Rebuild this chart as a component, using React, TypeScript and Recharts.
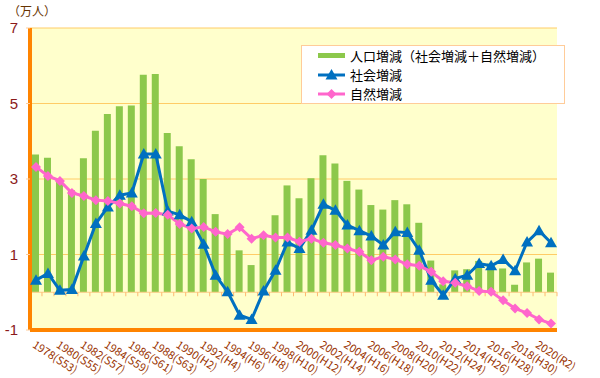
import React from 'react';
import {
  ComposedChart,
  Bar,
  Line,
  XAxis,
  YAxis,
  CartesianGrid,
  ReferenceLine,
  Legend,
} from 'recharts';

// ---- data ----
const years = [
  1978, 1979, 1980, 1981, 1982, 1983, 1984, 1985, 1986, 1987, 1988, 1989, 1990,
  1991, 1992, 1993, 1994, 1995, 1996, 1997, 1998, 1999, 2000, 2001, 2002, 2003,
  2004, 2005, 2006, 2007, 2008, 2009, 2010, 2011, 2012, 2013, 2014, 2015, 2016,
  2017, 2018, 2019, 2020, 2021,
];
const eras = [
  'S53', 'S54', 'S55', 'S56', 'S57', 'S58', 'S59', 'S60', 'S61', 'S62', 'S63', 'H1', 'H2',
  'H3', 'H4', 'H5', 'H6', 'H7', 'H8', 'H9', 'H10', 'H11', 'H12', 'H13', 'H14', 'H15',
  'H16', 'H17', 'H18', 'H19', 'H20', 'H21', 'H22', 'H23', 'H24', 'H25', 'H26', 'H27', 'H28',
  'H29', 'H30', 'R1', 'R2', 'R3',
];
// 人口増減（社会増減＋自然増減）
const totalChange = [
  3.65, 3.56, 3.0, 2.7, 3.55, 4.28, 4.72, 4.93, 4.95, 5.76, 5.78, 4.22, 3.87,
  3.52, 3.0, 2.07, 1.55, 1.11, 0.72, 1.54, 2.04, 2.83, 2.49, 3.02, 3.63, 3.41,
  2.95, 2.72, 2.31, 2.19, 2.44, 2.33, 1.84, 0.84, 0.21, 0.58, 0.61, 0.83, 0.76,
  0.63, 0.2, 0.79, 0.89, 0.52,
];
// 社会増減
const socialChange = [
  0.32, 0.5, 0.05, 0.07, 0.96, 1.82, 2.26, 2.57, 2.63, 3.66, 3.66, 2.15, 2.05,
  1.87, 1.27, 0.45, 0.01, -0.61, -0.72, 0.03, 0.58, 1.33, 1.16, 1.64, 2.33, 2.17,
  1.78, 1.63, 1.49, 1.25, 1.6, 1.58, 1.11, 0.32, -0.08, 0.36, 0.45, 0.76, 0.7,
  0.87, 0.57, 1.33, 1.63, 1.31,
];
// 自然増減
const naturalChange = [
  3.32, 3.08, 2.95, 2.63, 2.55, 2.44, 2.42, 2.35, 2.28, 2.09, 2.1, 2.05, 1.81,
  1.69, 1.73, 1.6, 1.54, 1.72, 1.42, 1.51, 1.45, 1.45, 1.34, 1.42, 1.31, 1.25,
  1.16, 1.07, 0.85, 0.94, 0.87, 0.74, 0.7, 0.54, 0.29, 0.25, 0.16, 0.03, 0.01,
  -0.21, -0.43, -0.55, -0.72, -0.83,
];
const yTicks = [-1, 1, 3, 5, 7];
const seriesNames = ['人口増減（社会増減＋自然増減）', '社会増減', '自然増減'];
const unitLabel = '（万人）';

const data = years.map((y, i) => ({
  year: y,
  label: `${y}(${eras[i]})`,
  total: totalChange[i],
  social: socialChange[i],
  natural: naturalChange[i],
}));

// ---- styles ----
const GREEN = '#8CC84B';
const BLUE = '#0070C0';
const PINK = '#FF66CC';
const BORDER = '#FF8400';
const LABEL = '#993300';
const JP = '"Noto Sans CJK JP", sans-serif';

const Triangle = (props: any) => {
  const { cx, cy } = props;
  if (cx == null || cy == null) return null;
  return (
    <path
      d={`M${cx},${cy - 6} L${cx + 6},${cy + 4.5} L${cx - 6},${cy + 4.5} Z`}
      fill={BLUE}
    />
  );
};

const Diamond = (props: any) => {
  const { cx, cy } = props;
  if (cx == null || cy == null) return null;
  return (
    <path
      d={`M${cx},${cy - 5} L${cx + 5},${cy} L${cx},${cy + 5} L${cx - 5},${cy} Z`}
      fill={PINK}
    />
  );
};

const XTick = (props: any) => {
  const { x, y, payload } = props;
  const i = years.indexOf(payload.value);
  if (i < 0) return null;
  return (
    <text
      x={x}
      y={y}
      dy={8}
      transform={`rotate(33 ${x} ${y})`}
      fontSize={11}
      fill={LABEL}
      fontFamily={JP}
      textAnchor="start"
    >
      {data[i].label}
    </text>
  );
};

const ZeroLine = (props: any) => {
  const { x1, y1, x2 } = props;
  if (x1 == null) return null;
  const n = data.length;
  const step = (x2 - x1) / n;
  const ticks = [];
  for (let k = 0; k <= n; k++) {
    const tx = x1 + k * step;
    ticks.push(<line key={k} x1={tx} x2={tx} y1={y1} y2={y1 + 4} stroke="#FFB870" strokeWidth={1} />);
  }
  return (
    <g>
      <line x1={x1} x2={x2} y1={y1} y2={y1} stroke="#FFCC88" strokeWidth={1} />
      {ticks}
    </g>
  );
};

const LegendContent = (props: any) => {
  const payload = props.payload || [];
  return (
    <div
      style={{
        background: '#ffffff',
        border: '1px solid #FFCC99',
        width: 264,
        height: 59,
        boxSizing: 'border-box',
        fontFamily: JP,
        fontSize: 13,
        color: '#000',
      }}
    >
      {payload.map((entry: any, idx: number) => {
        const key = entry.dataKey;
        let swatch;
        if (key === 'total') {
          swatch = <rect x={0} y={7} width={27} height={5} fill={GREEN} />;
        } else if (key === 'social') {
          swatch = (
            <g>
              <line x1={0} x2={27} y1={10} y2={10} stroke={BLUE} strokeWidth={3} />
              <Triangle cx={13.5} cy={10} />
            </g>
          );
        } else {
          swatch = (
            <g>
              <line x1={0} x2={27} y1={10} y2={10} stroke={PINK} strokeWidth={3} />
              <Diamond cx={13.5} cy={10} />
            </g>
          );
        }
        return (
          <div
            key={idx}
            style={{ display: 'flex', alignItems: 'center', height: 19, paddingLeft: 16 }}
          >
            <svg width={27} height={20} style={{ marginRight: 5, flex: 'none' }}>
              {swatch}
            </svg>
            <span style={{ whiteSpace: 'nowrap', lineHeight: '19px' }}>{entry.value}</span>
          </div>
        );
      })}
    </div>
  );
};

export default function App() {
  return (
    <div
      style={{
        position: 'absolute',
        left: 0,
        top: 0,
        width: 600,
        height: 378,
        background: '#ffffff',
      }}
    >
      <div
        style={{
          position: 'absolute',
          left: 8,
          top: 4,
          fontFamily: JP,
          fontSize: 12,
          lineHeight: '14px',
          color: '#663300',
          zIndex: 2,
        }}
      >
        {unitLabel}
      </div>
      <ComposedChart
        width={600}
        height={378}
        data={data}
        margin={{ top: 28, right: 43, bottom: 0, left: 0 }}
      >
        <CartesianGrid horizontal vertical={false} fill="#FFFFCC" stroke="#FFCC66" strokeWidth={1} />
        <ReferenceLine y={0} shape={ZeroLine} ifOverflow="extendDomain" />
        <Bar
          dataKey="total"
          name={seriesNames[0]}
          fill={GREEN}
          barSize={7}
          isAnimationActive={false}
        />
        <Line
          dataKey="social"
          name={seriesNames[1]}
          stroke={BLUE}
          strokeWidth={3}
          dot={<Triangle />}
          activeDot={false}
          isAnimationActive={false}
        />
        <Line
          dataKey="natural"
          name={seriesNames[2]}
          stroke={PINK}
          strokeWidth={3}
          dot={<Diamond />}
          activeDot={false}
          isAnimationActive={false}
        />
        <XAxis
          dataKey="year"
          height={48}
          interval={1}
          tickLine={false}
          tickSize={6}
          tickMargin={4}
          tick={<XTick />}
          axisLine={{ stroke: BORDER, strokeWidth: 4 }}
        />
        <XAxis
          xAxisId="top"
          dataKey="year"
          orientation="top"
          height={0}
          tick={false}
          tickLine={false}
          axisLine={{ stroke: BORDER, strokeWidth: 4 }}
        />
        <YAxis
          type="number"
          domain={[-1, 7]}
          ticks={yTicks}
          width={30}
          tickSize={4}
          tickMargin={8}
          tickLine={{ stroke: '#FFCC99' }}
          axisLine={{ stroke: BORDER, strokeWidth: 4 }}
          tick={{ fill: '#8B1A1A', fontSize: 15, fontFamily: '"Liberation Sans", sans-serif' }}
        />
        <YAxis
          yAxisId="right"
          orientation="right"
          type="number"
          domain={[-1, 7]}
          width={0}
          tick={false}
          tickLine={false}
          axisLine={{ stroke: BORDER, strokeWidth: 4 }}
        />
        <Legend
          layout="horizontal"
          verticalAlign="middle"
          align="center"
          content={<LegendContent />}
          wrapperStyle={{ left: 301, top: 45, width: 264, height: 59 }}
        />
      </ComposedChart>
    </div>
  );
}
